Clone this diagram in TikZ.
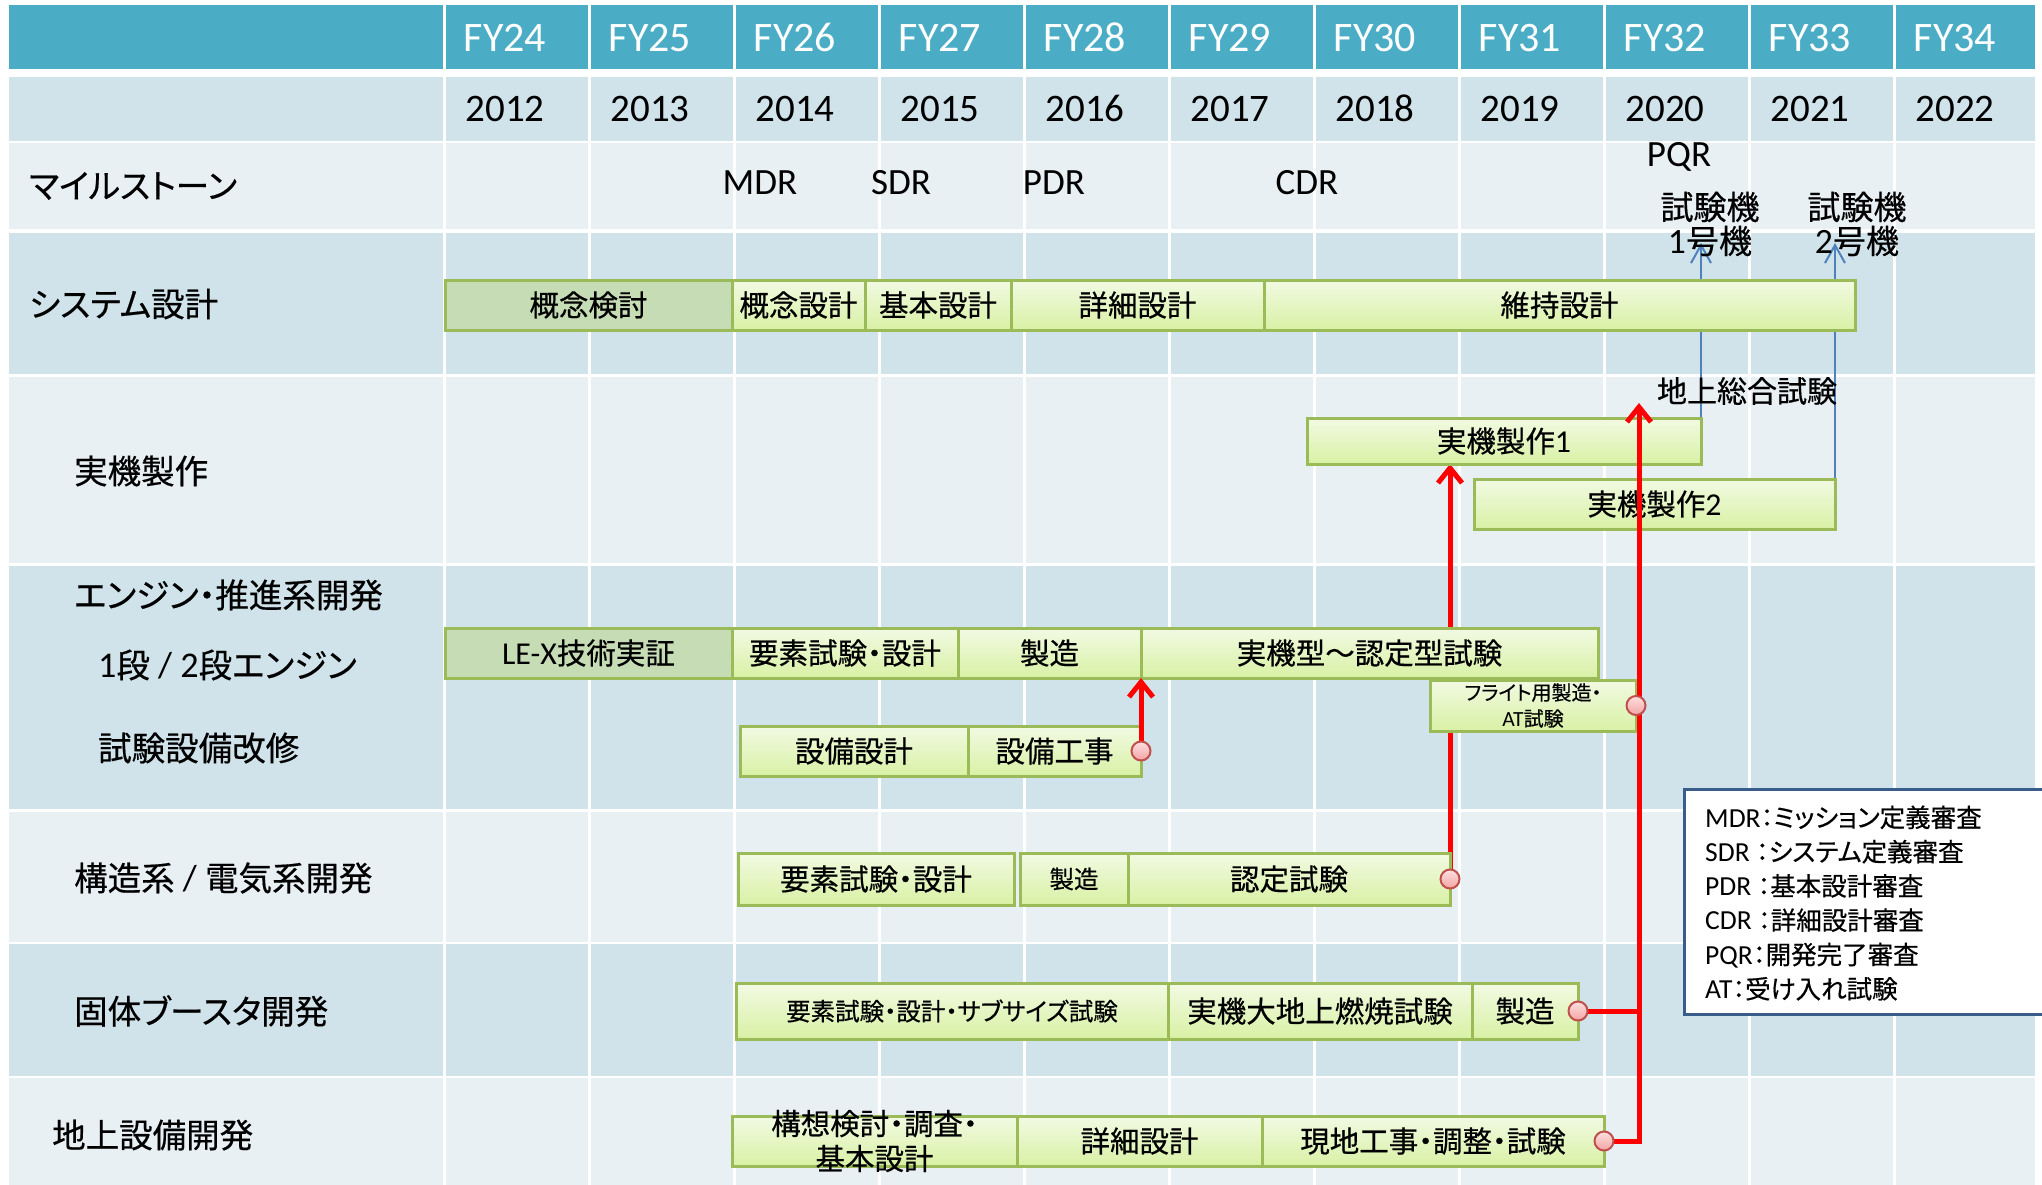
\documentclass[tikz,border=0pt]{standalone}
\usepackage{fontspec}
\setmainfont{Carlito}[Scale=1.08]
\newfontfamily\jp{Noto Sans CJK JP}[RawFeature=+palt, FakeBold=0.5]
\usepackage{tikz}
\usetikzlibrary{math}
\usetikzlibrary{arrows.meta}

\definecolor{headblue}{HTML}{4BACC6}
\definecolor{banddark}{HTML}{D0E3EA}
\definecolor{bandlight}{HTML}{E8F0F4}
\definecolor{barline}{HTML}{9BBB59}
\definecolor{bartop}{HTML}{F2FAE3}
\definecolor{barbot}{HTML}{D8F1A4}
\definecolor{pattgreen}{HTML}{C6DCB4}
\definecolor{ballline}{HTML}{C0504D}
\definecolor{balltop}{HTML}{FDE0E0}
\definecolor{ballbot}{HTML}{F4A3A3}
\definecolor{bluewire}{HTML}{4F81BD}
\definecolor{legline}{HTML}{385D8A}

\newcommand{\lat}[1]{{\rmfamily #1}}
\newcommand{\taskbar}[7][barbox]{%
  \node[#1, anchor=north west, minimum width={(#4-#3)*1pt}, minimum height={(#6-#5)*1pt}] (#2) at (#3,#5) {#7};}

\pgfdeclarelayer{grid}
\pgfdeclarelayer{wires}
\pgfdeclarelayer{front}
\pgfsetlayers{grid,wires,main,front}

\tikzset{
  barbase/.style={draw=barline, line width=3pt, inner sep=0pt, outer sep=0pt, font=\jp\fontsize{29.5}{34}\selectfont},
  barbox/.style={barbase, top color=bartop, bottom color=barbot},
  pattbox/.style={barbase, fill=pattgreen},
  smallbar/.style={barbox, font=\jp\fontsize{24.5}{28}\selectfont},
  bartext/.style={inner sep=0pt, align=center, font=\jp\fontsize{29.5}{35}\selectfont},
  tinytext/.style={inner sep=0pt, align=center, font=\jp\fontsize{20}{26}\selectfont},
  headtext/.style={anchor=base, inner sep=0pt, text=white, font=\fontsize{38.9}{40}\selectfont},
  yeartext/.style={anchor=base, inner sep=0pt, font=\fontsize{36.1}{38}\selectfont},
  stonetext/.style={anchor=base, inner sep=0pt, font=\fontsize{34.3}{36}\selectfont},
  rowlabel/.style={anchor=west, inner sep=0pt, font=\jp\fontsize{33.5}{38}\selectfont},
  tagtext/.style={inner sep=0pt, align=center, font=\jp\fontsize{33}{34}\selectfont},
  legtext/.style={anchor=base west, inner sep=0pt, font=\jp\fontsize{25.5}{30}\selectfont},
  legendbox/.style={draw=legline, line width=3pt, fill=white, anchor=north west},
  redball/.style={circle, draw=ballline, line width=2pt, top color=balltop, bottom color=ballbot, minimum size=19pt, inner sep=0pt},
  redwire/.style={red, line width=5pt},
  redarrow/.style={redwire, -{Straight Barb[length=15pt,width=24pt]}},
  bluearrow/.style={draw=bluewire, line width=2pt, -{Straight Barb[length=18pt,width=20pt]}},
}

\begin{document}
\begin{tikzpicture}[x=1pt, y=-1pt]

\tikzmath{ \cx = 444; \cw = 145; \tx = 505; }
\useasboundingbox (0,0) rectangle (2042,1185);
\clip (0,0) rectangle (2042,1185);

% table
\begin{pgfonlayer}{grid}
\fill[white] (0,0) rectangle (2042,1185);
\foreach \ya/\yb/\cl in {5/69/headblue, 77/141/banddark, 143/229/bandlight, 233/374/banddark, 377/563/bandlight, 566/809/banddark, 812/942/bandlight, 944/1076/banddark, 1078/1190/bandlight}
  \fill[\cl] (9,\ya) rectangle (2035,\yb);
\foreach \i in {0,...,10}
  \draw[white, line width=3pt] (\cx+\cw*\i, 0) -- (\cx+\cw*\i, 1185);
\end{pgfonlayer}

% fiscal years
\foreach \i in {0,...,10} {
  \pgfmathtruncatemacro{\fy}{24+\i}
  \pgfmathtruncatemacro{\yr}{2012+\i}
  \node[headtext] (fy\i) at (\tx+\cw*\i, 52) {FY\fy};
  \node[yeartext] (yr\i) at (\tx+\cw*\i, 122) {\yr};
}

% row labels
\node[rowlabel] (lbstone) at (29,186) {マイルストーン};
\node[rowlabel] (lbsys) at (29,304) {システム設計};
\node[rowlabel] (lbjiki) at (74,471) {実機製作};
\node[rowlabel] (lbeng) at (74,595) {エンジン・推進系開発};
\node[rowlabel] (lbstage) at (98,665) {\lat{1}段\lat{ / 2}段エンジン};
\node[rowlabel] (lbtest) at (98,748) {試験設備改修};
\node[rowlabel] (lbstruct) at (74,878) {構造系\lat{ / }電気系開発};
\node[rowlabel] (lbsrb) at (74,1011) {固体ブースタ開発};
\node[rowlabel] (lbground) at (52,1135) {地上設備開発};

% milestones
\node[stonetext] (mdr) at (760,195) {MDR};
\node[stonetext] (sdr) at (901,195) {SDR};
\node[stonetext] (pdr) at (1054,195) {PDR};
\node[stonetext] (cdr) at (1307,195) {CDR};
\node[stonetext] (pqr) at (1679,167) {PQR};
\node[tagtext] (shiken1) at (1710,224) {試験機\\\lat{1}号機};
\node[tagtext] (shiken2) at (1857,224) {試験機\\\lat{2}号機};
\node[tagtext, font=\jp\fontsize{30}{34}\selectfont] (sogo) at (1747,391) {地上総合試験};

% system design
\taskbar[pattbox]{kento}{445}{732}{280}{330}{概念検討}
\taskbar{gainen}{732}{865}{280}{330}{概念設計}
\taskbar{kihon}{865}{1011}{280}{330}{基本設計}
\taskbar{shosai}{1011}{1264}{280}{330}{詳細設計}
\taskbar{iji}{1264}{1855}{280}{330}{維持設計}

% flight models
\taskbar{jiki1}{1307}{1701}{418}{464}{実機製作\lat{1}}
\taskbar{jiki2}{1474}{1835}{479}{529}{実機製作\lat{2}}

% engine
\taskbar[pattbox]{lex}{445}{732}{628}{678}{\lat{LE-X}技術実証}
\taskbar{yoso1}{732}{958}{628}{678}{要素試験・設計}
\taskbar{seizo1}{958}{1141}{628}{678}{製造}
\taskbar{jikigata}{1141}{1598}{628}{678}{実機型～認定型試験}
\taskbar{flight}{1430}{1636}{680}{731}{}
\node[tinytext] (flightt) at (flight.center) {フライト用製造・\\\lat{AT}試験};
\taskbar{sekkei}{740}{968}{726}{776}{設備設計}
\taskbar{koji}{968}{1141}{726}{776}{設備工事}

% structure
\taskbar{yoso2}{738}{1014}{853}{905}{要素試験・設計}
\taskbar[smallbar]{seizo2}{1020}{1128}{853}{905}{製造}
\taskbar{nintei}{1128}{1450}{853}{905}{認定試験}

% solid booster
\taskbar[smallbar]{yoso3}{736}{1168}{983}{1039}{要素試験・設計・サブサイズ試験}
\taskbar{nensho}{1168}{1472}{983}{1039}{実機大地上燃焼試験}
\taskbar{seizo3}{1472}{1578}{983}{1039}{製造}

% ground
\taskbar{koso}{732}{1017}{1116}{1166}{}
\node[bartext] (kosot) at (koso.center) {構想検討・調査・\\基本設計};
\taskbar{shosai2}{1017}{1262}{1116}{1166}{詳細設計}
\taskbar{genchi}{1262}{1604}{1116}{1166}{現地工事・調整・試験}

% end points
\begin{pgfonlayer}{front}
\node[redball] (bkoji) at (koji.east) {};
\node[redball] (bflight) at (flight.east) {};
\node[redball] (bnintei) at (nintei.east) {};
\node[redball] (bseizo) at (seizo3.east) {};
\node[redball] (bgenchi) at (genchi.east) {};
\end{pgfonlayer}

% connectors
\coordinate (arr1) at (1700,243);
\coordinate (trunktop) at (1639,403);
\begin{pgfonlayer}{wires}
\draw[bluearrow] (jiki1.east) -- (jiki1.east |- arr1);
\draw[bluearrow] (jiki2.north east) -- (jiki2.north east |- arr1);
\draw[redarrow] (bnintei.center) -- (bnintei |- jiki1.south);
\end{pgfonlayer}
\draw[redarrow] (bkoji.center) -- (bkoji |- jikigata.south);
\draw[redarrow] (bgenchi.center) -| (trunktop);
\draw[redwire] (bseizo.center) -- (bseizo -| trunktop);

% legend
\node[legendbox, minimum width=420pt, minimum height=225pt] (legend) at (1683,788) {};
\foreach \txt [count=\k from 0] in {{\lat{MDR}：ミッション定義審査}, {\lat{SDR }：システム定義審査}, {\lat{PDR }：基本設計審査}, {\lat{CDR }：詳細設計審査}, {\lat{PQR}：開発完了審査}, {\lat{AT}：受け入れ試験}}
  \node[legtext] (leg\k) at (1705, 827+34.3*\k) {\txt};

\end{tikzpicture}
\end{document}
